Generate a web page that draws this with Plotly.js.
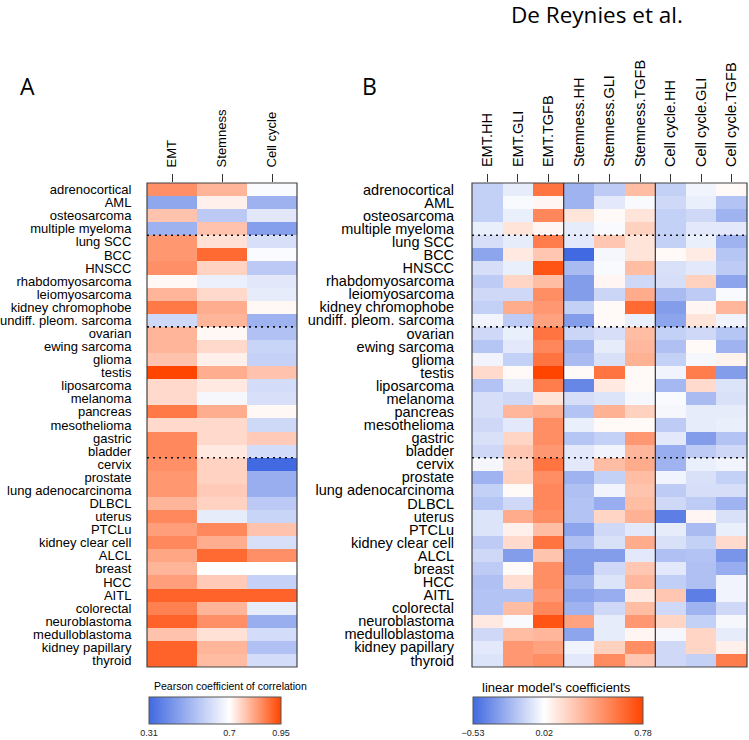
<!DOCTYPE html>
<html>
<head>
<meta charset="utf-8">
<script src="https://cdn.plot.ly/plotly-3.0.1.min.js"></script>
<style>
  body { margin: 0; background: #fff; }
  #plot { width: 749px; height: 740px; }
</style>
</head>
<body>
<div id="plot"></div>
<script>
// tumour types, top to bottom
var cancers = ['adrenocortical', 'AML', 'osteosarcoma', 'multiple myeloma', 'lung SCC', 'BCC', 'HNSCC',
    'rhabdomyosarcoma', 'leiomyosarcoma', 'kidney chromophobe', 'undiff. pleom. sarcoma', 'ovarian',
    'ewing sarcoma', 'glioma', 'testis', 'liposarcoma', 'melanoma', 'pancreas', 'mesothelioma', 'gastric',
    'bladder', 'cervix', 'prostate', 'lung adenocarcinoma', 'DLBCL', 'uterus', 'PTCLu', 'kidney clear cell',
    'ALCL', 'breast', 'HCC', 'AITL', 'colorectal', 'neuroblastoma', 'medulloblastoma', 'kidney papillary',
    'thyroid'];

// panel A: Pearson correlation
var colsA = ['EMT', 'Stemness', 'Cell cycle'];
var emtA = [0.85, 0.47, 0.78, 0.50, 0.84, 0.84, 0.85, 0.71, 0.80, 0.88, 0.60, 0.80, 0.80, 0.78, 0.95, 0.75,
    0.75, 0.88, 0.75, 0.86, 0.86, 0.85, 0.84, 0.84, 0.80, 0.86, 0.83, 0.86, 0.82, 0.80, 0.83, 0.91, 0.87,
    0.91, 0.78, 0.91, 0.91];
var stemA = [0.80, 0.72, 0.56, 0.78, 0.74, 0.90, 0.76, 0.66, 0.75, 0.81, 0.80, 0.71, 0.75, 0.72, 0.81, 0.73,
    0.68, 0.81, 0.75, 0.75, 0.73, 0.76, 0.76, 0.77, 0.76, 0.65, 0.86, 0.81, 0.90, 0.70, 0.77, 0.91, 0.80,
    0.85, 0.74, 0.80, 0.79];
var cycleA = [0.69, 0.50, 0.64, 0.45, 0.62, 0.69, 0.56, 0.64, 0.65, 0.71, 0.50, 0.54, 0.59, 0.58, 0.78, 0.61,
    0.62, 0.71, 0.60, 0.77, 0.61, 0.31, 0.49, 0.49, 0.56, 0.59, 0.78, 0.62, 0.85, 0.70, 0.58, 0.91, 0.65,
    0.49, 0.61, 0.54, 0.61];

// panel B: linear model coefficients (one row per tumour type)
var colsB = ['EMT.HH', 'EMT.GLI', 'EMT.TGFB', 'Stemness.HH', 'Stemness.GLI', 'Stemness.TGFB',
    'Cell cycle.HH', 'Cell cycle.GLI', 'Cell cycle.TGFB'];
var coefB = [
    [-0.15, -0.05, 0.59, -0.26, -0.17, 0.29, -0.15, -0.02, 0.04],
    [-0.15, 0.00, 0.06, -0.26, -0.06, 0.00, -0.12, -0.04, -0.20],
    [-0.15, -0.04, 0.51, 0.13, 0.04, 0.13, -0.15, -0.12, -0.26],
    [-0.04, 0.13, 0.06, -0.05, 0.00, 0.21, -0.15, -0.06, -0.06],
    [-0.10, -0.05, 0.55, -0.06, 0.25, 0.13, -0.15, -0.04, -0.26],
    [-0.31, 0.11, 0.25, -0.53, -0.01, 0.13, 0.04, 0.10, -0.19],
    [-0.10, -0.04, 0.72, -0.23, 0.00, 0.29, -0.09, -0.06, -0.17],
    [-0.17, 0.19, 0.29, -0.34, 0.06, -0.12, -0.10, 0.21, -0.31],
    [-0.12, -0.12, 0.48, -0.34, -0.13, 0.36, -0.23, -0.17, 0.00],
    [-0.15, 0.36, 0.44, -0.15, 0.04, 0.63, -0.34, 0.06, 0.32],
    [-0.02, -0.17, 0.40, -0.34, 0.04, -0.04, -0.31, 0.13, -0.02],
    [-0.12, -0.04, 0.59, -0.13, -0.10, 0.29, -0.15, -0.12, -0.19],
    [-0.19, -0.06, 0.51, -0.26, -0.05, 0.31, -0.21, 0.04, -0.26],
    [-0.02, -0.15, 0.59, -0.23, -0.09, 0.34, -0.15, -0.01, 0.07],
    [0.17, 0.04, 0.78, 0.04, 0.59, 0.04, -0.02, 0.55, -0.34],
    [-0.20, -0.05, 0.55, -0.42, 0.11, 0.04, -0.24, 0.17, -0.08],
    [-0.10, -0.12, 0.13, -0.10, -0.08, -0.01, 0.00, -0.23, -0.09],
    [-0.10, 0.32, 0.36, -0.20, 0.34, 0.21, -0.01, -0.05, -0.05],
    [-0.12, -0.06, 0.48, -0.04, 0.04, 0.04, -0.17, -0.05, -0.04],
    [-0.09, 0.19, 0.48, -0.19, -0.15, 0.44, -0.06, -0.34, -0.20],
    [-0.12, 0.25, 0.44, -0.06, -0.02, 0.32, -0.28, -0.17, -0.12],
    [-0.01, 0.19, 0.59, -0.06, 0.29, 0.36, -0.26, -0.04, -0.02],
    [-0.26, 0.21, 0.48, -0.26, -0.15, 0.29, -0.02, -0.09, -0.15],
    [-0.15, 0.04, 0.51, -0.21, -0.02, 0.26, -0.17, -0.10, -0.10],
    [-0.19, -0.12, 0.51, -0.20, -0.28, 0.29, -0.12, -0.17, -0.26],
    [-0.08, 0.36, 0.48, -0.20, 0.19, 0.34, -0.45, 0.06, -0.09],
    [-0.08, 0.08, 0.29, -0.31, -0.12, -0.06, -0.05, -0.23, -0.04],
    [-0.17, 0.17, 0.59, -0.21, -0.09, 0.36, -0.09, -0.15, 0.17],
    [-0.12, -0.34, 0.26, -0.34, -0.34, -0.06, -0.21, -0.20, -0.37],
    [-0.17, 0.04, 0.48, -0.34, -0.12, 0.25, -0.06, -0.21, -0.28],
    [-0.21, 0.16, 0.48, -0.26, -0.08, 0.31, -0.16, -0.21, -0.02],
    [-0.20, -0.20, 0.44, -0.31, -0.28, 0.11, 0.25, -0.45, -0.02],
    [-0.20, 0.29, 0.51, -0.26, -0.12, 0.29, -0.12, -0.26, -0.12],
    [0.11, 0.00, 0.72, 0.40, -0.05, 0.44, 0.19, -0.15, -0.01],
    [-0.12, 0.29, 0.32, -0.31, -0.05, 0.06, -0.01, 0.19, -0.05],
    [-0.06, 0.44, 0.40, -0.02, 0.21, 0.48, -0.12, 0.19, 0.08],
    [-0.08, 0.44, 0.48, -0.06, 0.49, 0.25, -0.12, -0.15, 0.55]
];

// colour bar limits and midpoints
var limA = [0.31, 0.7, 0.95];
var limB = [-0.53, 0.02, 0.78];
// row positions of the dotted separators
var groupBreaks = [3.5, 10.5, 20.5];

var BLUE = 'rgb(65,105,225)', RED = 'rgb(255,69,0)';
function scaleFor(lim) {
    var mid = (lim[1] - lim[0]) / (lim[2] - lim[0]);
    return [[0, BLUE], [mid, 'rgb(255,255,255)'], [1, RED]];
}

var zA = cancers.map(function(c, i) { return [emtA[i], stemA[i], cycleA[i]]; });

var FONT = '"Liberation Sans", Arial, sans-serif';
var H = 740, W = 749;
var yDom = [1 - 667 / H, 1 - 183 / H];

function bar(cx, lenPx, lim, labels) {
    return {
        orientation: 'h', x: cx / W, xanchor: 'center', y: 1 - 697 / H, yanchor: 'top',
        len: lenPx, lenmode: 'pixels', thickness: 27, thicknessmode: 'pixels', xpad: 0, ypad: 0,
        outlinewidth: 1, outlinecolor: '#555',
        tickvals: lim, ticktext: labels, ticks: '',
        tickfont: {size: 9, family: FONT, color: '#222'}
    };
}

var traceA = {
    type: 'heatmap', x: colsA, y: cancers, z: zA,
    xaxis: 'x', yaxis: 'y',
    zmin: limA[0], zmax: limA[2], colorscale: scaleFor(limA),
    hoverinfo: 'skip',
    colorbar: bar(215, 132, limA, ['0.31', '0.7', '0.95'])
};

var traceB = {
    type: 'heatmap', x: colsB, y: cancers, z: coefB,
    xaxis: 'x2', yaxis: 'y2',
    zmin: limB[0], zmax: limB[2], colorscale: scaleFor(limB),
    hoverinfo: 'skip',
    colorbar: bar(558, 170, limB, ['\u22120.53', '0.02', '0.78'])
};

function topAxis(domain, anchor, cols, size) {
    return {
        domain: domain, anchor: anchor, side: 'top', tickangle: -90,
        tickmode: 'array', tickvals: cols, ticktext: cols,
        ticks: 'outside', ticklen: 8, tickwidth: 1, tickcolor: '#333',
        ticklabelstandoff: 4,
        showgrid: false, zeroline: false, showline: false, fixedrange: true,
        tickfont: {size: size, family: FONT, color: '#000'}
    };
}
function rowAxis(anchor, size, gap) {
    return {
        domain: yDom, anchor: anchor, autorange: 'reversed',
        tickmode: 'array', tickvals: cancers, ticktext: cancers,
        ticks: 'outside', ticklen: gap, tickcolor: 'rgba(0,0,0,0)',
        showgrid: false, zeroline: false, showline: false, fixedrange: true,
        tickfont: {size: size, family: FONT, color: '#000'}
    };
}

var shapes = [];
[['x', 'y'], ['x2', 'y2']].forEach(function(ax) {
    shapes.push({type: 'rect', xref: ax[0] + ' domain', yref: ax[1] + ' domain',
        x0: 0, x1: 1, y0: 0, y1: 1, line: {color: '#444', width: 1.2}});
    groupBreaks.forEach(function(b) {
        shapes.push({type: 'line', xref: ax[0] + ' domain', yref: ax[1],
            x0: 0, x1: 1, y0: b, y1: b, line: {color: '#111', width: 1.6, dash: '2px,4px'}});
    });
});
[2.5, 5.5].forEach(function(v) {
    shapes.push({type: 'line', xref: 'x2', yref: 'y2 domain', x0: v, x1: v, y0: 0, y1: 1,
        line: {color: '#333', width: 1.2}});
});

var layout = {
    width: W, height: H,
    margin: {l: 0, r: 0, t: 0, b: 0},
    paper_bgcolor: '#fff', plot_bgcolor: '#fff',
    showlegend: false,
    xaxis: topAxis([147 / W, 297 / W], 'y', colsA, 13),
    yaxis: rowAxis('x', 13, 12),
    xaxis2: topAxis([472 / W, 747 / W], 'y2', colsB, 14.5),
    yaxis2: rowAxis('x2', 14.5, 14),
    shapes: shapes,
    annotations: [
        {text: 'A', x: 28 / W, y: 1 - 86 / H, xref: 'paper', yref: 'paper', showarrow: false,
         xanchor: 'center', yanchor: 'middle', font: {size: 23, family: 'Open Sans, sans-serif', color: '#000'}},
        {text: 'B', x: 369 / W, y: 1 - 86 / H, xref: 'paper', yref: 'paper', showarrow: false,
         xanchor: 'center', yanchor: 'middle', font: {size: 23, family: 'Open Sans, sans-serif', color: '#000'}},
        {text: 'De Reynies et al.', x: 597 / W, y: 1 - 14 / H, xref: 'paper', yref: 'paper', showarrow: false,
         xanchor: 'center', yanchor: 'middle', font: {size: 22.5, family: 'Open Sans, sans-serif', color: '#000'}},
        {text: 'Pearson coefficient of correlation', x: 231 / W, y: 1 - 686 / H, xref: 'paper', yref: 'paper',
         showarrow: false, xanchor: 'center', yanchor: 'middle', font: {size: 10.5, family: FONT, color: '#000'}},
        {text: "linear model's coefficients", x: 556 / W, y: 1 - 687 / H, xref: 'paper', yref: 'paper',
         showarrow: false, xanchor: 'center', yanchor: 'middle', font: {size: 13, family: FONT, color: '#000'}}
    ]
};

Plotly.newPlot('plot', [traceA, traceB], layout, {displayModeBar: false, staticPlot: true});
</script>
</body>
</html>
